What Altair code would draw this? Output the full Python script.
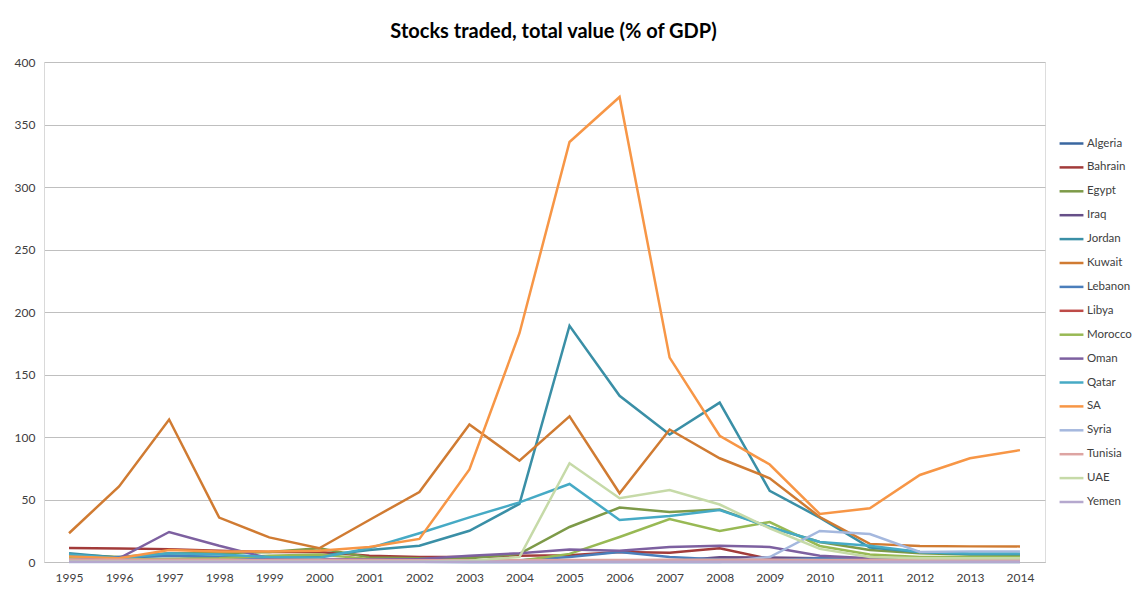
import altair as alt
import pandas as pd

years = list(range(1995, 2015))

countries = ["Algeria", "Bahrain", "Egypt", "Iraq", "Jordan", "Kuwait", "Lebanon", "Libya",
             "Morocco", "Oman", "Qatar", "SA", "Syria", "Tunisia", "UAE", "Yemen"]

colors = ["#3A67A0", "#A23B3A", "#7D9A48", "#664F88", "#3A8FA6", "#D07B32", "#4A7EBB", "#BE4B48",
          "#98B954", "#7D60A0", "#46AAC5", "#F79646", "#A5B8DE", "#DDA4A2", "#C6DAA8", "#B5A8CE"]

algeria = [0.2, 0.2, 0.2, 0.2, 0.2, 0.2, 0.2, 0.2, 0.1, 0.1, 0.1, 0.1, 0.1, 0.1, 0.1, 0.1, 0.1, 0.1, 0.1, 0.1]
bahrain = [11.2, 10.8, 10.3, 9.0, 8.0, 8.0, 5.0, 4.0, 4.0, 5.0, 5.5, 8.0, 7.5, 11.0, 2.5, 1.5, 1.5, 1.0, 1.0, 1.0]
egypt = [6.0, 4.0, 7.0, 7.0, 8.0, 11.0, 3.7, 3.0, 3.0, 6.5, 28.0, 43.5, 40.0, 42.0, 28.0, 16.0, 9.6, 7.0, 6.0, 5.8]
iraq = [0.3, 0.3, 0.3, 0.3, 0.3, 0.3, 0.3, 0.3, 0.3, 0.5, 0.5, 0.6, 0.6, 3.8, 3.6, 3.0, 2.0, 1.2, 1.0, 1.0]
jordan = [7.0, 3.5, 5.0, 4.0, 4.5, 4.8, 9.6, 13.0, 25.0, 46.5, 189.0, 133.0, 102.0, 127.5, 57.0, 35.5, 11.5, 8.0, 6.2, 6.2]
kuwait = [23.0, 60.5, 114.0, 35.5, 19.7, 11.0, 33.6, 56.0, 110.0, 81.0, 116.5, 55.0, 106.0, 83.0, 67.0, 36.0, 14.5, 12.8, 12.5, 12.5]
lebanon = [2.0, 4.0, 5.0, 4.0, 2.0, 1.2, 1.0, 1.0, 1.0, 1.5, 4.0, 8.0, 4.0, 2.0, 1.5, 3.0, 2.0, 1.0, 1.0, 1.0]
libya = [0.5, 0.5, 0.5, 0.5, 0.5, 0.5, 0.5, 0.5, 0.5, 0.5, 0.5, 0.5, 0.5, 0.6, 0.6, 0.5, 0.4, 0.4, 0.4, 0.4]
morocco = [3.0, 2.0, 2.5, 3.0, 5.0, 6.0, 2.5, 1.5, 1.0, 1.0, 6.5, 20.0, 34.4, 24.8, 32.0, 12.8, 6.0, 4.0, 4.0, 4.0]
oman = [1.6, 3.0, 24.0, 13.0, 3.0, 2.5, 2.0, 2.4, 5.0, 7.0, 10.0, 9.0, 12.0, 13.0, 12.0, 5.0, 3.0, 2.0, 2.0, 2.0]
qatar = [6.0, 3.0, 7.0, 6.0, 4.0, 3.5, 11.0, 23.0, 35.7, 47.7, 62.4, 33.6, 36.8, 41.6, 28.0, 16.0, 13.0, 8.0, 6.8, 6.8]
sa = [4.5, 3.0, 9.5, 8.5, 8.5, 9.0, 12.0, 18.5, 74.0, 183.0, 336.0, 372.0, 163.5, 101.0, 78.0, 38.4, 43.0, 69.6, 83.0, 89.5]
syria = [0.0, 0.0, 0.0, 0.0, 0.0, 0.0, 0.0, 0.0, 0.0, 0.0, 0.0, 0.0, 0.0, 0.0, 4.0, 24.8, 22.4, 8.0, 8.5, 8.5]
tunisia = [2.0, 1.8, 1.8, 1.8, 1.6, 1.8, 1.6, 1.5, 1.5, 1.5, 1.6, 1.7, 1.8, 1.8, 1.8, 1.7, 1.6, 1.6, 1.6, 1.6]
uae = [0.5, 0.5, 0.5, 0.5, 0.5, 0.5, 0.5, 0.5, 1.0, 4.0, 79.0, 51.0, 57.6, 46.0, 27.0, 10.5, 4.0, 3.0, 3.0, 3.0]
yemen = [0.2, 0.2, 0.2, 0.2, 0.2, 0.2, 0.2, 0.2, 0.2, 0.2, 0.2, 0.2, 0.2, 0.2, 0.2, 0.2, 0.2, 0.2, 0.2, 0.2]

series = [algeria, bahrain, egypt, iraq, jordan, kuwait, lebanon, libya,
          morocco, oman, qatar, sa, syria, tunisia, uae, yemen]

rows = []
for i, (c, vals) in enumerate(zip(countries, series)):
    for y, v in zip(years, vals):
        rows.append({"country": c, "year": str(y), "value": v, "order": i})
df = pd.DataFrame(rows)

FONT = "Lato"

lines = alt.Chart(df).mark_line(strokeWidth=2.5, strokeJoin="miter").encode(
    x=alt.X("year:O", scale=alt.Scale(type="point", padding=0.5),
            axis=alt.Axis(title=None, labelAngle=0, ticks=False, domain=True,
                          domainColor="#BFBFBF", labelFont=FONT, labelFontSize=12,
                          labelColor="#404040", labelPadding=10, grid=False)),
    y=alt.Y("value:Q", scale=alt.Scale(domain=[0, 400], nice=False),
            axis=alt.Axis(title=None, values=list(range(0, 401, 50)), ticks=False,
                          domain=True, domainColor="#D9D9D9", gridColor="#BFBFBF",
                          gridWidth=1, labelFont=FONT, labelFontSize=12,
                          labelColor="#404040", labelPadding=9)),
    color=alt.Color("country:N", sort=countries,
                    scale=alt.Scale(domain=countries, range=colors),
                    legend=alt.Legend(title=None, orient="none", legendX=1014, legendY=68,
                                      symbolType="stroke", symbolSize=570,
                                      symbolStrokeWidth=2.5, rowPadding=4.9,
                                      labelFont=FONT, labelFontSize=11.5,
                                      labelColor="#404040", labelOffset=2)),
    order=alt.Order("order:Q"),
    detail="country:N",
)

chart = lines.properties(
    width=1001,
    height=500,
    autosize=alt.AutoSizeParams(type="none"),
    padding={"left": 36, "top": 54, "right": 87, "bottom": 25},
    title=alt.TitleParams("Stocks traded, total value (% of GDP)", font=FONT, fontSize=20,
                          fontWeight="bold", color="#000000", anchor="middle",
                          offset=14, dx=9),
).configure_view(stroke=None).configure(background="white")

chart.save("out.html", embed_options={"renderer": "svg", "actions": False})
